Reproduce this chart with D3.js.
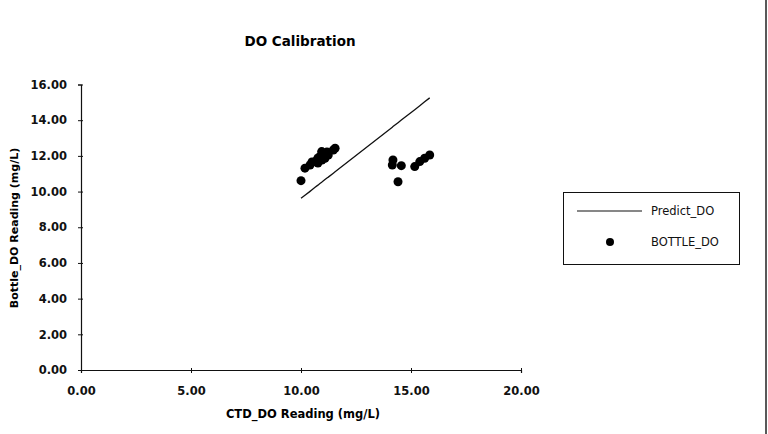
<!DOCTYPE html>
<html>
<head>
<meta charset="utf-8">
<script src="https://cdn.jsdelivr.net/npm/d3@7"></script>
<style>
    body { margin: 0; background: #fff; }
    svg { display: block; font-family: "DejaVu Sans", "Liberation Sans", Arial, sans-serif; }
</style>
</head>
<body>
<div id="chart"></div>
<script>
// CTD readings (x), bottle readings (y) and predicted DO on the fit line
var ctdDO = [10.00, 10.18, 10.41, 10.50, 10.64, 10.77, 10.77, 10.86, 10.94, 10.95, 11.09, 11.18, 11.24, 11.47, 11.55,
             14.15, 14.18, 14.41, 14.56, 15.17, 15.40, 15.62, 15.85]
var bottleDO = [10.61, 11.31, 11.49, 11.66, 11.68, 11.60, 11.88, 11.96, 12.24, 11.77, 11.87, 12.22, 12.05, 12.33, 12.43,
                11.49, 11.77, 10.55, 11.45, 11.40, 11.68, 11.87, 12.05]
var predictDO = [9.62, 9.79, 10.01, 10.10, 10.24, 10.36, 10.36, 10.45, 10.52, 10.53, 10.67, 10.76, 10.81, 11.03, 11.11,
                 13.61, 13.64, 13.86, 14.01, 14.59, 14.81, 15.03, 15.25]
var xTicks = [0, 5, 10, 15, 20]
var yTicks = [0, 2, 4, 6, 8, 10, 12, 14, 16]
var seriesNames = ["Predict_DO", "BOTTLE_DO"]

var width = 768, height = 434
var font = '"DejaVu Sans", "Liberation Sans", Arial, sans-serif'

var svg = d3.select("#chart").append("svg")
    .attr("width", width)
    .attr("height", height)

var x = d3.scaleLinear().domain([0, 20]).range([81, 521])
var y = d3.scaleLinear().domain([0, 16]).range([370, 84.5])

// title
svg.append("text")
    .attr("x", 300)
    .attr("y", 46)
    .attr("text-anchor", "middle")
    .style("font-size", "13.5px")
    .style("font-weight", "bold")
    .text("DO Calibration")

// axes
var xAxis = svg.append("g")
    .attr("transform", `translate(0,${y(0)})`)
    .call(d3.axisBottom(x).tickValues(xTicks).tickFormat(d3.format(".2f")).tickSizeOuter(0).tickSize(3).tickPadding(14))
xAxis.selectAll(".tick line").attr("y1", -2)

var yAxis = svg.append("g")
    .attr("transform", `translate(${x(0)},0)`)
    .call(d3.axisLeft(y).tickValues(yTicks).tickFormat(d3.format(".2f")).tickSizeOuter(0).tickSize(3).tickPadding(11))
yAxis.selectAll(".tick line").attr("x1", 2).attr("x2", -3)

svg.selectAll(".tick text")
    .attr("font-family", font)
    .attr("font-size", 11.5)
    .attr("font-weight", "bold")
    .attr("fill", "#111")

svg.selectAll(".domain").style("stroke", "#111").style("stroke-width", 1.2)
svg.selectAll(".tick line").style("stroke", "#111")

svg.append("text")
    .attr("x", 303)
    .attr("y", 418)
    .attr("text-anchor", "middle")
    .style("font-size", "11.5px")
    .style("font-weight", "bold")
    .text("CTD_DO Reading (mg/L)")

svg.append("text")
    .attr("transform", `translate(18,228) rotate(-90)`)
    .attr("text-anchor", "middle")
    .style("font-size", "11px")
    .style("font-weight", "bold")
    .text("Bottle_DO Reading (mg/L)")

// predicted line
var points = ctdDO.map((d, i) => ({ctd: d, bottle: bottleDO[i], predict: predictDO[i]}))

svg.append("path")
    .datum(points)
    .attr("fill", "none")
    .attr("stroke", "#111")
    .attr("stroke-width", 1.3)
    .attr("d", d3.line().x(d => x(d.ctd)).y(d => y(d.predict)))

// bottle readings
svg.selectAll(".dot")
    .data(points)
    .enter().append("circle")
    .attr("class", "dot")
    .attr("cx", d => x(d.ctd))
    .attr("cy", d => y(d.bottle))
    .attr("r", 4.5)
    .attr("fill", "#000")

// legend
var legend = svg.append("g")

legend.append("rect")
    .attr("x", 563.5)
    .attr("y", 192.5)
    .attr("width", 176)
    .attr("height", 72)
    .attr("fill", "none")
    .attr("stroke", "#111")

legend.append("line")
    .attr("x1", 577).attr("x2", 642)
    .attr("y1", 211).attr("y2", 211)
    .attr("stroke", "#111")
    .attr("stroke-width", 1.2)

legend.append("circle")
    .attr("cx", 610)
    .attr("cy", 242)
    .attr("r", 4)
    .attr("fill", "#000")

legend.selectAll(".legend-label")
    .data(seriesNames)
    .enter().append("text")
    .attr("class", "legend-label")
    .attr("x", 651)
    .attr("y", (d, i) => 215 + i * 31)
    .style("font-size", "11.5px")
    .style("fill", "#111")
    .text(d => d)

// page border on the right
svg.append("line")
    .attr("x1", 766).attr("x2", 766)
    .attr("y1", 0).attr("y2", height)
    .attr("stroke", "#222")
    .attr("stroke-width", 1.5)
</script>
</body>
</html>
